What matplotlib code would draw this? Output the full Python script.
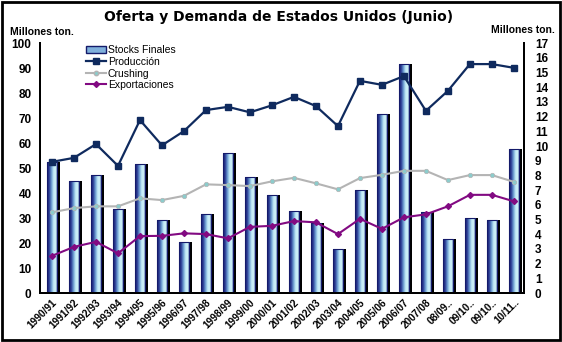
import numpy as np
import matplotlib
matplotlib.use("Agg")
import matplotlib.pyplot as plt
from matplotlib.colors import LinearSegmentedColormap
from matplotlib.patches import Patch, Rectangle
from matplotlib.lines import Line2D

plt.rcParams['font.family'] = ['Liberation Sans Narrow', 'Liberation Sans', 'DejaVu Sans']

campaigns = ["1990/91", "1991/92", "1992/93", "1993/94", "1994/95", "1995/96", "1996/97",
             "1997/98", "1998/99", "1999/00", "2000/01", "2001/02", "2002/03", "2003/04",
             "2004/05", "2005/06", "2006/07", "2007/08", "08/09..", "09/10..", "09/10..", "10/11.."]

# Millones de toneladas
stocks = [8.9, 7.6, 8.0, 5.7, 8.8, 5.0, 3.5, 5.4, 9.5, 7.9, 6.7, 5.6, 4.8, 3.0,
          7.0, 12.2, 15.6, 5.5, 3.7, 5.1, 5.0, 9.8]
produccion = [52.5, 54.1, 59.6, 50.9, 69.2, 59.1, 64.8, 73.2, 74.5, 72.3, 75.1, 78.5,
              74.8, 66.8, 84.9, 83.3, 86.8, 72.9, 80.9, 91.6, 91.6, 90.1]
crushing = [32.3, 34.0, 34.7, 34.7, 37.9, 37.2, 38.9, 43.5, 43.2, 42.8, 44.7, 46.1,
            43.9, 41.5, 46.0, 47.3, 48.9, 48.9, 45.2, 47.2, 47.2, 44.5]
exportaciones = [14.9, 18.5, 20.5, 15.9, 22.8, 22.9, 23.9, 23.6, 21.9, 26.5, 26.9, 28.8,
                 28.3, 23.6, 29.7, 25.7, 30.3, 31.5, 34.7, 39.3, 39.3, 36.7]

x = np.arange(len(campaigns))
navy = "#0f2a5e"
bar_w = 0.46

fig = plt.figure(figsize=(5.62, 3.42), dpi=100)
ax = fig.add_axes([0.071, 0.143, 0.861, 0.731])
ax2 = ax.twinx()
ax.set_zorder(ax2.get_zorder() + 1)
ax.patch.set_visible(False)

# stock bars with a black drop shadow and a horizontal gradient fill
grad = LinearSegmentedColormap.from_list(
    "bar", ["#141a6a", "#2c3e96", "#6a9ad0", "#bfe8f6", "#d4f6fb", "#2a3c8a"])
ax2.bar(x + 0.12, stocks, width=bar_w, color="black", zorder=1)
bars = ax2.bar(x, stocks, width=bar_w, color="none", edgecolor="#141a6a", linewidth=0.8, zorder=3)
gx = np.linspace(0, 1, 64).reshape(1, -1)
for b in bars:
    x0, y0 = b.get_x(), b.get_y()
    w, h = b.get_width(), b.get_height()
    im = ax2.imshow(gx, cmap=grad, extent=[x0, x0 + w, y0, y0 + h],
                    aspect="auto", zorder=2, interpolation="bilinear")
    im.set_clip_path(b)

ax.plot(x, produccion, color=navy, lw=1.6, marker="s", ms=4, mfc=navy, mec=navy)
ax.plot(x, crushing, color="#b4b4b4", lw=1.5, marker="o", ms=3.2, mfc="#8ccccc", mec="#b4b4b4", mew=0.5)
ax.plot(x, exportaciones, color="#820a82", lw=1.5, marker="D", ms=3, mfc="#820a82", mec="#820a82")

ax.set_xlim(-0.55, 21.45)
ax.set_ylim(0, 100)
ax2.set_ylim(0, 17)
ax.set_yticks(np.arange(0, 101, 10))
ax2.set_yticks(np.arange(0, 18, 1))
ax.set_xticks(x)
ax.set_xticklabels(campaigns, rotation=45, ha="right", rotation_mode="anchor",
                   fontsize=7.3, fontweight="bold")
for lab in ax.get_yticklabels():
    lab.set_fontsize(8.5)
    lab.set_fontweight("bold")
for lab in ax2.get_yticklabels():
    lab.set_fontsize(8.5)
    lab.set_fontweight("bold")
ax.tick_params(axis="both", length=0, pad=6)
ax2.tick_params(axis="y", length=0, pad=8)
ax.tick_params(axis="x", pad=3)

for a in (ax, ax2):
    a.spines["top"].set_visible(False)
    for s in ("left", "right", "bottom"):
        a.spines[s].set_linewidth(1.4)

handles = [
    Patch(facecolor="#7fb0dc", edgecolor="#141a6a"),
    Line2D([], [], color=navy, lw=1.6, marker="s", ms=4),
    Line2D([], [], color="#b4b4b4", lw=1.5, marker="o", ms=3.2, mfc="#8ccccc"),
    Line2D([], [], color="#820a82", lw=1.5, marker="D", ms=3),
]
ax.legend(handles, ["Stocks Finales", "Producción", "Crushing", "Exportaciones"],
          loc="upper left", bbox_to_anchor=(0.08, 1.02), frameon=False, fontsize=7.5,
          handlelength=1.9, handletextpad=0.2, labelspacing=0.15, borderpad=0.2)

fig.text(0.495, 0.95, "Oferta y Demanda de Estados Unidos (Junio)", ha="center", va="center",
         fontsize=10, fontweight="bold", family="DejaVu Sans")
fig.text(0.018, 0.905, "Millones ton.", fontsize=7.5, fontweight="bold", va="center")
fig.text(0.988, 0.912, "Millones ton.", fontsize=7.5, fontweight="bold", va="center", ha="right")

fig.patches.append(Rectangle((0.004, 0.006), 0.992, 0.988, transform=fig.transFigure,
                             fill=False, edgecolor="black", linewidth=2))

fig.savefig("out.png", dpi=100)
